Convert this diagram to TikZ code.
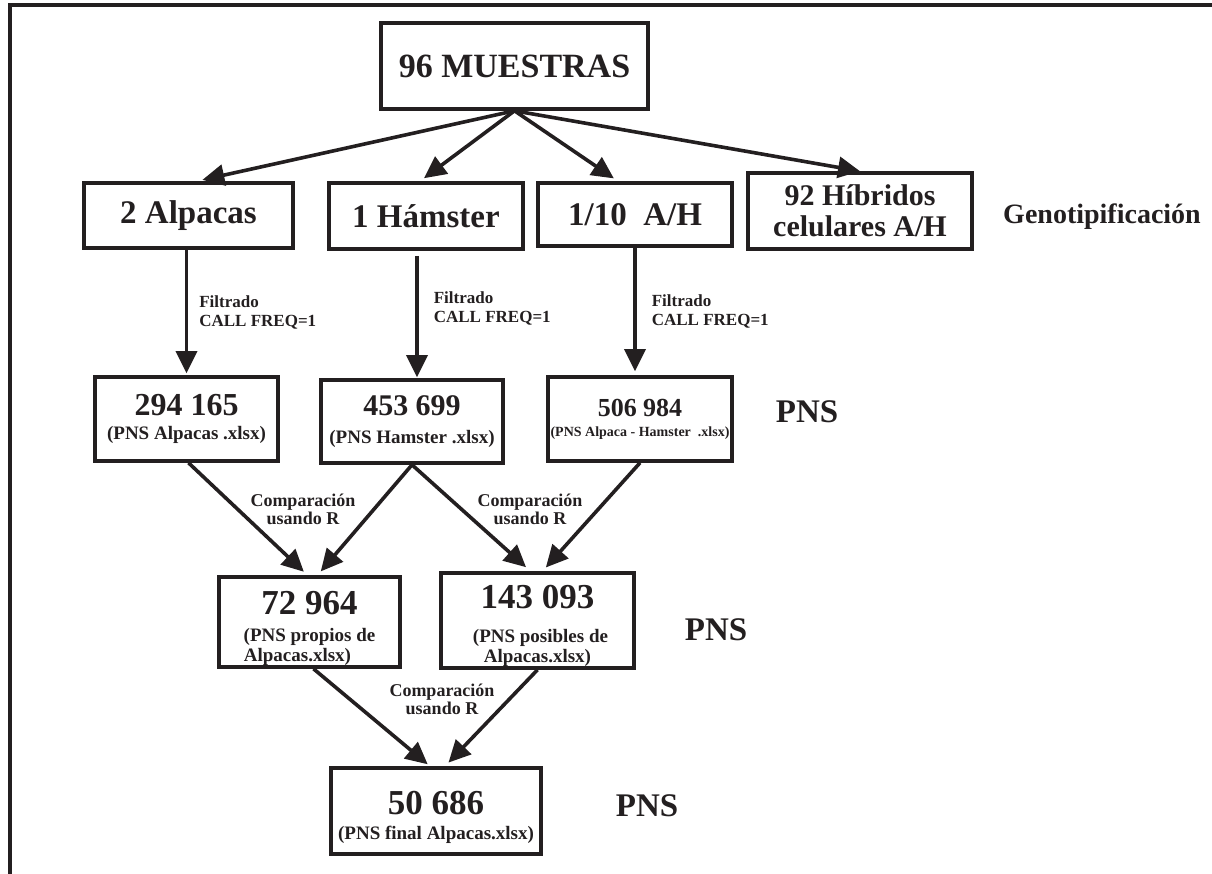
\documentclass[tikz,border=0pt]{standalone}
\usepackage{fontspec}
\setmainfont{Liberation Serif}
\usetikzlibrary{arrows.meta}
\definecolor{tinta}{HTML}{231F20}
\newcommand\fz[2]{\fontsize{#1}{#2}\selectfont}
\tikzset{
  caja/.style={draw=tinta, line width=3.6, inner sep=0pt, align=center, text=tinta},
  flecha/.style={draw=tinta, line width=3.6, -{Triangle[length=22, width=21]}},
  etiq/.style={text=tinta, inner sep=0pt, font=\bfseries}
}

\begin{document}
\begin{tikzpicture}[x=1pt,y=1pt,yscale=-1,xscale=1]
	\useasboundingbox (0,0) rectangle (1212,874);
	
	%Frame
	\draw[tinta, line width=4] (1212,5) -- (10,5) -- (10,874);
	
	% Boxes
	\node[caja, minimum width=267, minimum height=86, font=\bfseries\fz{34}{36}] (muestras) at (514.5,66) {96 MUESTRAS};
	\node[caja, minimum width=209, minimum height=65, font=\bfseries\fz{33}{34}] (alpacas) at (188.5,215.5) {2 Alpacas};
	\node[caja, minimum width=194, minimum height=66, font=\bfseries\fz{33}{34}] (hamster) at (426,216) {1 Hámster};
	\node[caja, minimum width=194, minimum height=63, font=\bfseries\fz{33}{34}] (mezcla) at (635,214.5) {1/10\hspace{0.5em}A/H};
	\node[caja, minimum width=224, minimum height=76, font=\bfseries\fz{30}{31}] (hibridos) at (860,211) {92 Híbridos\\celulares A/H};
	
	\node[caja, minimum width=183, minimum height=84, font=\bfseries\fz{19}{24}] (pnsalp) at (186.5,419) {\fz{32}{32}294 165\\(PNS Alpacas .xlsx)};
	\node[caja, minimum width=182, minimum height=83, font=\bfseries\fz{19}{28}] (pnsham) at (412,421.5) {\fz{30}{30}453 699\\(PNS Hamster .xlsx)};
	\node[caja, minimum width=184, minimum height=84, font=\bfseries\fz{14}{20}] (pnsmez) at (640,419) {\fz{26}{26}506 984\\(PNS Alpaca - Hamster \ .xlsx)};
	
	\node[caja, minimum width=181, minimum height=90, font=\bfseries\fz{19}{20}] (propios) at (309.5,622) {\rule{0pt}{37pt}\fz{35}{35}72 964\\[7pt](PNS propios de\hspace*{22pt}\\Alpacas.xlsx)\hspace*{24pt}};
	\node[caja, minimum width=193, minimum height=95, font=\bfseries\fz{19}{20}] (posibles) at (537.5,620.5) {\rule{0pt}{35pt}\fz{35}{35}143 093\\[14pt]\hspace*{6pt}(PNS posibles de\\Alpacas.xlsx)};
	
	\node[caja, minimum width=210, minimum height=86, font=\bfseries\fz{19}{25}] (final) at (436,811) {\rule{0pt}{37pt}\fz{35}{35}50 686\\(PNS final Alpacas.xlsx)};
	
	% Side labels
	\node[etiq, font=\bfseries\fz{28}{30}] (geno) at (1102,217) {Genotipificación};
	\node[etiq, font=\bfseries\fz{33}{36}] (pnsA) at (807,412) {PNS};
	\node[etiq, font=\bfseries\fz{33}{36}] (pnsB) at (716,630) {PNS};
	\node[etiq, font=\bfseries\fz{33}{36}] (pnsC) at (647,806) {PNS};
	
	% Arrows
	\draw[flecha, shorten >=6] (muestras.south) -- ([xshift=8]alpacas.north);
	\draw[flecha, shorten >=5] (muestras.south) -- ([xshift=-6]hamster.north);
	\draw[flecha, shorten >=5] (muestras.south) -- ([xshift=-17]mezcla.north);
	\draw[flecha] (muestras.south) -- (hibridos.north);
	
	\draw[flecha, shorten >=2] ([xshift=-2]alpacas.south) -- node[etiq, right=11pt, align=left, font=\bfseries\fz{17}{19}] (filtA) {Filtrado\\CALL FREQ=1} (pnsalp.north);
	\draw[flecha, shorten <=5, shorten >=1] ([xshift=-9]hamster.south) -- node[etiq, right=15pt, pos=0.45, align=left, font=\bfseries\fz{17}{19}] (filtB) {Filtrado\\CALL FREQ=1} ([xshift=5]pnsham.north);
	\draw[flecha, shorten >=4] (mezcla.south) -- node[etiq, right=15pt, align=left, font=\bfseries\fz{17}{19}] (filtC) {Filtrado\\CALL FREQ=1} ([xshift=-5]pnsmez.north);
	
	\draw[flecha, shorten >=5] ([xshift=2]pnsalp.south) -- ([xshift=-2]propios.north);
	\draw[flecha, shorten >=5] (pnsham.south) -- ([xshift=8]propios.north);
	\draw[flecha, shorten >=6] (pnsham.south) -- ([xshift=-7]posibles.north);
	\draw[flecha, shorten >=5] (pnsmez.south) -- ([xshift=5]posibles.north);
	\draw[flecha, shorten >=3] ([xshift=4]propios.south) -- ([xshift=-6]final.north);
	\draw[flecha, shorten >=5] (posibles.south) -- ([xshift=9]final.north);
	
	% Comparison labels
	\node[etiq, align=center, font=\bfseries\fz{18}{18}] (compA) at (303,509) {Comparación\\usando R};
	\node[etiq, align=center, font=\bfseries\fz{18}{18}] (compB) at (530,509) {Comparación\\usando R};
	\node[etiq, align=center, font=\bfseries\fz{18}{18}] (compC) at (442,699) {Comparación\\usando R};
	
\end{tikzpicture}
\end{document}
